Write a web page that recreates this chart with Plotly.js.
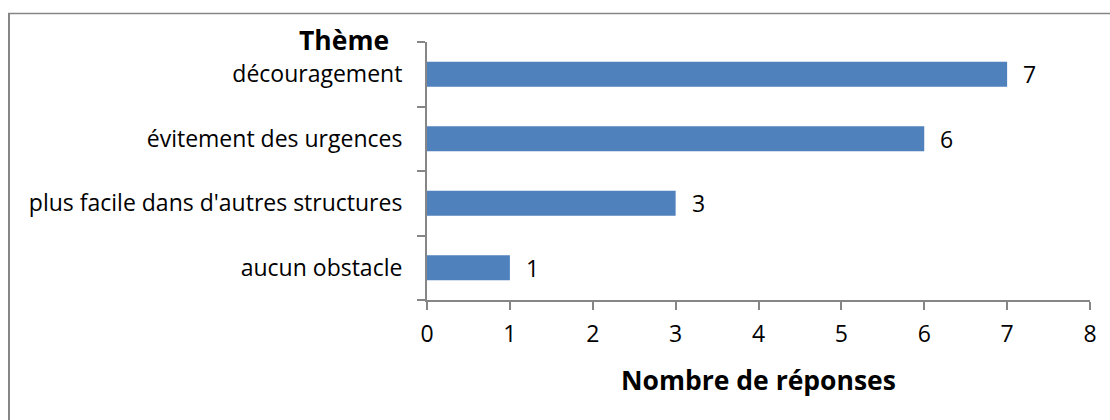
<!DOCTYPE html>
<html>
<head>
<meta charset="utf-8">
<script src="https://cdn.plot.ly/plotly-3.0.1.min.js"></script>
<style>html,body{margin:0;padding:0;background:#fff;}#chart{width:1110px;height:420px;}</style>
</head>
<body>
<div id="chart"></div>
<script>
const categories = ["aucun obstacle", "plus facile dans d'autres structures", "évitement des urgences", "découragement"];
const values = [1, 3, 6, 7];
const xTicks = [0, 1, 2, 3, 4, 5, 6, 7, 8];
const yTitle = "Thème";
const xTitle = "Nombre de réponses";

const FONT = "'Open Sans', sans-serif";
const FS = 23;
const TFS = 26.5;
const W = 1110, H = 420, L = 427, R = 20, T = 42, B = 120;
const pw = W - L - R, ph = H - T - B;
const px = v => (v - L) / pw;
const py = v => (H - B - v) / ph;

const trace = {
  type: 'bar', orientation: 'h',
  x: values, y: categories,
  marker: {color: '#4F81BD', line: {width: 0}},
  width: 0.39,
  hoverinfo: 'none'
};

const valueLabels = values.map((v, i) => ({
  x: v, y: categories[i], xref: 'x', yref: 'y',
  text: String(v), showarrow: false, xanchor: 'left', xshift: 14,
  font: {family: FONT, size: FS, color: '#000'}
}));

const layout = {
  width: W, height: H,
  margin: {l: L, r: R, t: T, b: B, pad: 0},
  paper_bgcolor: '#fff', plot_bgcolor: '#fff',
  showlegend: false,
  bargap: 0.61,
  xaxis: {
    range: [0, 8], tickvals: xTicks, ticktext: xTicks.map(String),
    showgrid: false, zeroline: false,
    showline: true, linecolor: '#868686', linewidth: 2,
    ticks: 'outside', ticklen: 8, tickwidth: 2, tickcolor: '#868686',
    tickfont: {family: FONT, size: FS, color: '#000'},
    ticklabelstandoff: 4,
    fixedrange: true
  },
  yaxis: {
    type: 'category', categoryorder: 'array', categoryarray: categories,
    range: [-0.5, 3.5],
    showgrid: false, zeroline: false,
    showline: true, linecolor: '#868686', linewidth: 2,
    ticks: 'outside', tickson: 'boundaries', ticklen: 8, tickwidth: 2, tickcolor: '#868686',
    tickfont: {family: FONT, size: FS, color: '#000'},
    ticklabelstandoff: 18,
    fixedrange: true
  },
  annotations: valueLabels.concat([
    {xref: 'paper', yref: 'paper', x: px(391), y: py(40), xanchor: 'right', yanchor: 'middle',
     text: '<b>' + yTitle + '</b>', showarrow: false, font: {family: FONT, size: TFS, color: '#000'}},
    {xref: 'paper', yref: 'paper', x: 0.5, y: py(380), xanchor: 'center', yanchor: 'middle',
     text: '<b>' + xTitle + '</b>', showarrow: false, font: {family: FONT, size: TFS, color: '#000'}}
  ]),
  shapes: [
    {type: 'line', xref: 'paper', yref: 'paper', x0: px(8), x1: px(1115), y0: py(13.5), y1: py(13.5),
     line: {color: '#868686', width: 1.5}},
    {type: 'line', xref: 'paper', yref: 'paper', x0: px(9), x1: px(9), y0: py(13), y1: py(425),
     line: {color: '#868686', width: 2}}
  ]
};

Plotly.newPlot('chart', [trace], layout, {displayModeBar: false, staticPlot: true});
</script>
</body>
</html>
